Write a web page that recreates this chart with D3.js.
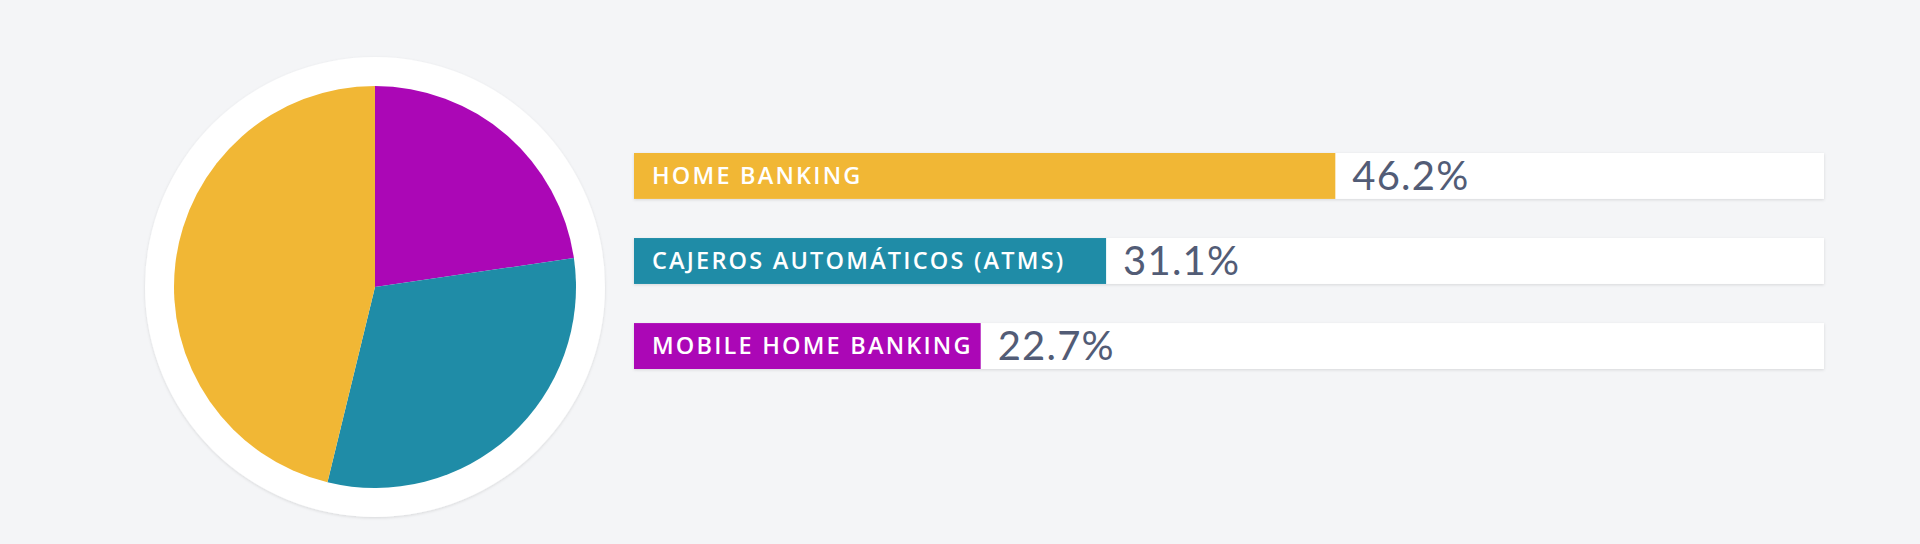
<!DOCTYPE html>
<html>
<head>
<meta charset="utf-8">
<script src="https://cdn.jsdelivr.net/npm/d3@7"></script>
<style>
  html, body { margin: 0; padding: 0; background: #f4f5f7; }
  svg { display: block; }
</style>
</head>
<body>
<div id="chart"></div>
<script>
// Data: share of channels
const categories = ["HOME BANKING", "CAJEROS AUTOMÁTICOS (ATMS)", "MOBILE HOME BANKING"];
const values = [46.2, 31.1, 22.7];
const colors = ["#f1b735", "#1f8ca7", "#ab07b6"];
// pie goes clockwise from 12 o'clock in this order
const pieOrder = [2, 1, 0];

const width = 1920;
const height = 544;

const svg = d3.select("#chart")
  .append("svg")
  .attr("width", width)
  .attr("height", height);

// soft shadow used by the white circle and bar tracks
const defs = svg.append("defs");
defs.append("filter")
  .attr("id", "shadow")
  .attr("x", "-10%").attr("y", "-10%")
  .attr("width", "120%").attr("height", "120%")
  .append("feDropShadow")
  .attr("dx", 0).attr("dy", 1)
  .attr("stdDeviation", 1.5)
  .attr("flood-color", "#000")
  .attr("flood-opacity", 0.12);

// ---- Pie ----
const cx = 375, cy = 287;
const outerR = 230, pieR = 201;

const pieG = svg.append("g").attr("transform", `translate(${cx}, ${cy})`);

pieG.append("circle")
  .attr("r", outerR)
  .attr("fill", "#fff")
  .attr("filter", "url(#shadow)");

const pie = d3.pie().sort(null).value(i => values[i]);
const arc = d3.arc().innerRadius(0).outerRadius(pieR);

pieG.selectAll("path")
  .data(pie(pieOrder))
  .enter()
  .append("path")
  .attr("d", arc)
  .attr("fill", d => colors[d.data]);

// ---- Bars ----
const barLeft = 634, trackWidth = 1190;

const yScale = d3.scaleBand()
  .domain(categories)
  .range([153, 369])
  .paddingInner(0.46)
  .paddingOuter(0);

const xScale = d3.scaleLinear()
  .domain([0, 100])
  .range([0, 1518]);

const rows = svg.selectAll("g.row")
  .data(categories)
  .enter()
  .append("g")
  .attr("class", "row")
  .attr("transform", d => `translate(${barLeft}, ${yScale(d)})`);

rows.append("rect")
  .attr("width", trackWidth)
  .attr("height", yScale.bandwidth())
  .attr("fill", "#fff")
  .attr("filter", "url(#shadow)");

const bars = rows.append("rect")
  .attr("height", yScale.bandwidth())
  .attr("fill", (d, i) => colors[i]);

const labels = rows.append("text")
  .attr("x", 18)
  .attr("y", 31)
  .style("font-family", "'Open Sans', sans-serif")
  .style("font-weight", 600)
  .style("font-size", "23.5px")
  .style("letter-spacing", "2.2px")
  .style("fill", "#fff")
  .text(d => d);

// bar width from the scale, but never narrower than its label
const barW = [];
labels.each(function(d, i) {
  const lw = this.getComputedTextLength();
  barW[i] = Math.max(xScale(values[i]), lw + 26);
});
bars.attr("width", (d, i) => barW[i]);

rows.append("text")
  .attr("x", (d, i) => barW[i] + 17)
  .attr("y", 37)
  .style("font-family", "Lato, sans-serif")
  .style("font-weight", 400)
  .style("font-size", "40px")
  .style("letter-spacing", "1.2px")
  .style("fill", "#525c76")
  .text((d, i) => values[i].toFixed(1) + "%");
</script>
</body>
</html>
